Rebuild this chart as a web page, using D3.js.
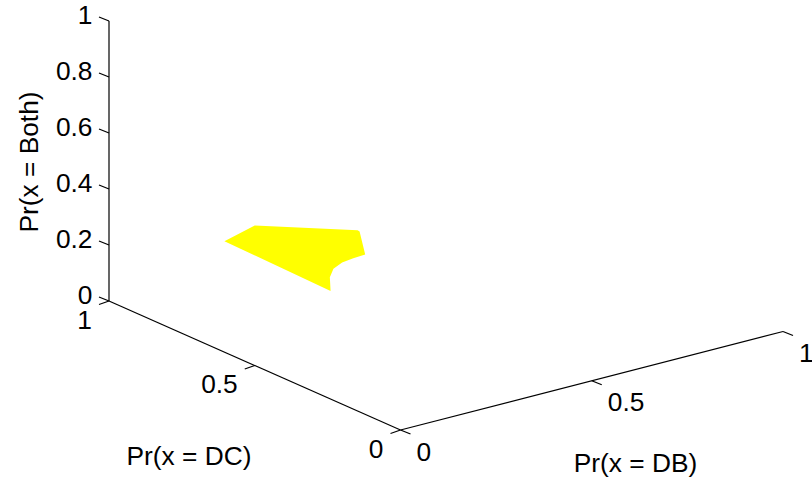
<!DOCTYPE html>
<html>
<head>
<meta charset="utf-8">
<script src="https://cdn.jsdelivr.net/npm/d3@7"></script>
<style>
html,body{margin:0;padding:0;background:#fff;}
svg{display:block;}
text{font-family:"Liberation Sans",Arial,sans-serif;font-size:26.3px;fill:#000;}
</style>
</head>
<body>
<script>
// Data: vertices of the yellow region (probability simplex coordinates)
const prDB   = [0, 0, 0.153, 0.159, 0.227, 0.221, 0.217, 0.221, 0.239, 0.276];
const prDC   = [0.604, 0.5, 0.348, 0.349, 0.419, 0.452, 0.485, 0.520, 0.556, 0.602];
const prBoth = [0.396, 0.5, 0.499, 0.492, 0.354, 0.327, 0.298, 0.259, 0.205, 0.122];
const zTicks  = [0, 0.2, 0.4, 0.6, 0.8, 1];
const dcTicks = [0, 0.5, 1];
const dbTicks = [0, 0.5, 1];
const labels = {db: "Pr(x = DB)", dc: "Pr(x = DC)", both: "Pr(x = Both)"};

const W = 812, H = 482;
const origin = [400.5, 430];
// linear projection of each axis to its screen displacement
const dbX = d3.scaleLinear().domain([0,1]).range([0,382.5]);
const dbY = d3.scaleLinear().domain([0,1]).range([0,-98.5]);
const dcX = d3.scaleLinear().domain([0,1]).range([0,-291.5]);
const dcY = d3.scaleLinear().domain([0,1]).range([0,-129]);
const zY  = d3.scaleLinear().domain([0,1]).range([0,-280]);
const project = (db,dc,z) => [origin[0]+dbX(db)+dcX(dc), origin[1]+dbY(db)+dcY(dc)+zY(z)];

const svg = d3.select("body").append("svg").attr("width",W).attr("height",H);

svg.append("polygon")
  .datum(prDB.map((d,i)=>project(d,prDC[i],prBoth[i])))
  .attr("points",d=>d.map(p=>p.join(",")).join(" "))
  .attr("fill","#ffff00");

const lineG = svg.append("g").attr("stroke","#000").attr("stroke-width",1.2).attr("fill","none");
function seg(a,b){
  lineG.append("line").attr("x1",a[0]).attr("y1",a[1]).attr("x2",b[0]).attr("y2",b[1]);
}
function label(p,t,anchor){
  svg.append("text").attr("x",p[0]).attr("y",p[1]).attr("text-anchor",anchor).text(t);
}

// axis lines
seg(project(0,1,0),project(0,1,1));
seg(project(0,1,0),project(0,0,0));
seg(project(0,0,0),project(1,0,0));

// z axis
zTicks.forEach(t=>{
  const p = project(0,1,t);
  seg(p,[p[0]-10,p[1]-4]);
  label([p[0]-16.5,p[1]+3],String(t),"end");
});
// DC axis
dcTicks.forEach(t=>{
  const p = project(0,t,0);
  seg(p,[p[0]-10,p[1]+3.5]);
  label([p[0]-17,p[1]+27.5],String(t),"end");
});
// DB axis
dbTicks.forEach(t=>{
  const p = project(t,0,0);
  seg(p,[p[0]+10,p[1]+4]);
  label([p[0]+16,p[1]+30.5],String(t),"start");
});

label([635.5,472],labels.db,"middle");
label([189,465],labels.dc,"middle");
svg.append("text").attr("transform","translate(37.5,162) rotate(-90)").attr("text-anchor","middle").text(labels.both);
</script>
</body>
</html>
